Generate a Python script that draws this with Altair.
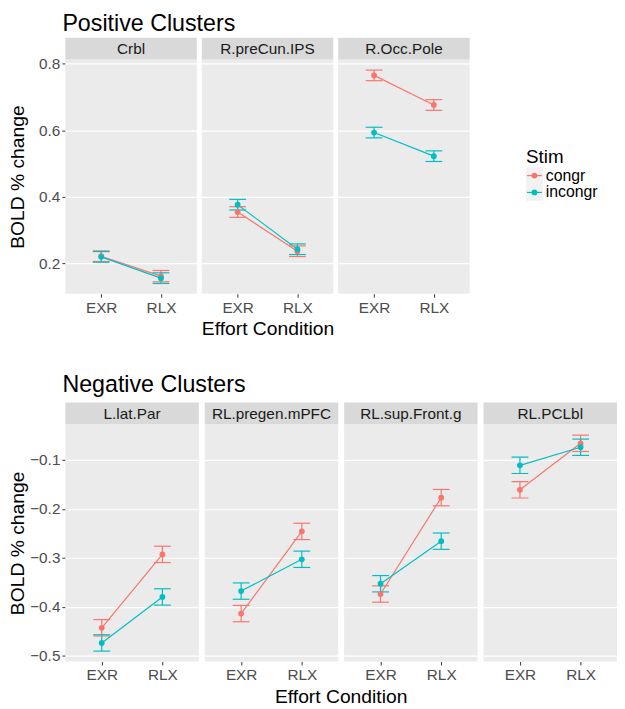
import altair as alt
import pandas as pd

# ---------------- data ----------------
efforts = ["EXR", "RLX"]
stims = ["congr", "incongr"]

pos_regions = ["Crbl", "R.preCun.IPS", "R.Occ.Pole"]
neg_regions = ["L.lat.Par", "RL.pregen.mPFC", "RL.sup.Front.g", "RL.PCLbl"]

# mean BOLD % change, [EXR, RLX] per region
pos_congr = [[0.221, 0.161], [0.354, 0.236], [0.765, 0.676]]
pos_incongr = [[0.219, 0.155], [0.376, 0.242], [0.593, 0.522]]
pos_se_congr = [[0.016, 0.017], [0.016, 0.016], [0.016, 0.016]]
pos_se_incongr = [[0.016, 0.016], [0.016, 0.016], [0.016, 0.016]]

neg_congr = [[-0.443, -0.293], [-0.414, -0.246], [-0.374, -0.177], [-0.161, -0.066]]
neg_incongr = [[-0.474, -0.380], [-0.368, -0.303], [-0.353, -0.266], [-0.111, -0.074]]
neg_se_congr = [[0.0167, 0.0167], [0.0167, 0.0167], [0.0167, 0.0167], [0.0167, 0.0167]]
neg_se_incongr = [[0.0167, 0.0167], [0.0167, 0.0167], [0.0167, 0.0167], [0.0167, 0.0167]]

pos_ticks = [0.2, 0.3, 0.4, 0.5, 0.6, 0.7, 0.8]
neg_ticks = [-0.5, -0.45, -0.4, -0.35, -0.3, -0.25, -0.2, -0.15, -0.1, -0.05]
pos_domain = [0.108, 0.813]
neg_domain = [-0.512, -0.027]

colors = ["#F8766D", "#00BFC4"]


def build(regions, congr, incongr, se_c, se_i):
    rows = []
    for r, reg in enumerate(regions):
        for s, (means, ses) in zip(stims, [(congr, se_c), (incongr, se_i)]):
            for e, eff in enumerate(efforts):
                rows.append({"Region": reg, "Stim": s, "Effort": eff,
                             "mean": means[r][e], "se": ses[r][e]})
    return pd.DataFrame(rows)


pos_df = build(pos_regions, pos_congr, pos_incongr, pos_se_congr, pos_se_incongr)
neg_df = build(neg_regions, neg_congr, neg_incongr, neg_se_congr, neg_se_incongr)

FONT = "Liberation Sans"
LAB = 15.5
TIT = 19.5


def panels(df, regions, width, height, domain, ticks, minor_test, spacing):
    yscale = alt.Scale(domain=domain, nice=False, zero=False)
    yaxis = alt.Axis(
        values=ticks, title="BOLD % change", titleFontSize=TIT, titleFontWeight="normal",
        titleColor="black", titlePadding=2, minExtent=36, maxExtent=36,
        labelFontSize=LAB, labelColor="#4D4D4D",
        tickColor="#333333", tickSize=3.5, labelPadding=2, domain=False, format=".1f",
        labelExpr=f"({minor_test}) ? '' : datum.label",
        gridColor="white",
        gridWidth={"condition": {"test": minor_test, "value": 0.55}, "value": 1.1},
        tickOpacity={"condition": {"test": minor_test, "value": 0}, "value": 1},
    )
    xenc = alt.X("Effort:N", sort=efforts,
                 scale=alt.Scale(type="point", padding=0.6, domain=efforts),
                 axis=alt.Axis(title=None,
                               labelFontSize=LAB, labelColor="#4D4D4D", labelAngle=0,
                               tickColor="#333333", tickSize=3.5, labelPadding=3,
                               domain=False, gridColor="white", gridWidth=1.1))
    cenc = alt.Color("Stim:N", scale=alt.Scale(domain=stims, range=colors), legend=None)
    base = alt.Chart().transform_calculate(
        lo="datum.mean - datum.se", hi="datum.mean + datum.se")
    line = base.mark_line(strokeWidth=1.2).encode(
        x=xenc, y=alt.Y("mean:Q", scale=yscale, axis=yaxis), color=cenc)
    pts = base.mark_circle(size=34, opacity=1).encode(
        x=xenc, y=alt.Y("mean:Q", scale=yscale), color=cenc)
    bar = base.mark_rule(strokeWidth=1.2).encode(
        x=xenc, y=alt.Y("lo:Q", scale=yscale), y2="hi:Q", color=cenc)
    cap_lo = base.mark_tick(orient="horizontal", size=17, thickness=1.2, opacity=1).encode(
        x=xenc, y=alt.Y("lo:Q", scale=yscale), color=cenc)
    cap_hi = base.mark_tick(orient="horizontal", size=17, thickness=1.2, opacity=1).encode(
        x=xenc, y=alt.Y("hi:Q", scale=yscale), color=cenc)
    one = alt.Chart().transform_filter("datum.Stim == 'congr' && datum.Effort == 'EXR'")
    strip = one.mark_rect(color="#D9D9D9").encode(
        x=alt.value(0), x2=alt.value(width), y=alt.value(-22), y2=alt.value(0))
    strip_txt = one.mark_text(fontSize=LAB, color="#1A1A1A", baseline="middle",
                              align="center").encode(
        x=alt.value(width / 2), y=alt.value(-10.5), text="Region:N")
    layer = alt.layer(line, bar, cap_lo, cap_hi, pts, strip, strip_txt).properties(
        width=width, height=height)
    return layer.facet(
        data=df,
        column=alt.Column("Region:N", sort=regions, title="Effort Condition",
                          header=alt.Header(labels=False, titleOrient="bottom",
                                            titleFontSize=TIT, titleFontWeight="normal",
                                            titleColor="black", titlePadding=-5)),
        spacing=spacing,
    )


top = panels(pos_df, pos_regions, 133, 237, pos_domain, pos_ticks,
             "round(datum.value * 10) % 2 != 0", 5)
bottom = panels(neg_df, neg_regions, 135, 240, neg_domain, neg_ticks,
                "round(datum.value * 20) % 2 != 0", 6).properties(
    title=alt.TitleParams("Negative Clusters", anchor="start", fontSize=23.5,
                          fontWeight="normal", offset=6, dx=55, color="black"))

# legend drawn from the stim list
leg_df = pd.DataFrame({"Stim": stims})
ly = alt.Y("Stim:N", scale=alt.Scale(type="band", domain=stims, range=[109, 143],
                                     paddingInner=0, paddingOuter=0), axis=None)
lc = alt.Color("Stim:N", scale=alt.Scale(domain=stims, range=colors), legend=None)
lkey = alt.Chart(leg_df).mark_rect(color="#F2F2F2").encode(
    y=ly, x=alt.value(0), x2=alt.value(17))
lline = alt.Chart(leg_df).mark_rule(strokeWidth=1.2).encode(
    y=ly, x=alt.value(1), x2=alt.value(16), color=lc)
lpt = alt.Chart(leg_df).mark_circle(size=34, opacity=1).encode(
    y=ly, x=alt.value(8.5), color=lc)
ltxt = alt.Chart(leg_df).mark_text(align="left", baseline="middle", fontSize=16).encode(
    y=ly, x=alt.value(20), text="Stim:N")
ltitle = alt.Chart(leg_df).transform_filter("datum.Stim == 'congr'").mark_text(
    align="left", baseline="alphabetic", fontSize=19, text="Stim").encode(
    x=alt.value(0), y=alt.value(105))
legend = alt.layer(lkey, lline, lpt, ltxt, ltitle).properties(
    width=90, height=237, view=alt.ViewBackground(fill="white", strokeWidth=0))

top_row = alt.hconcat(top, legend, spacing=57).properties(
    title=alt.TitleParams("Positive Clusters", anchor="start", fontSize=23.5,
                          fontWeight="normal", offset=2, dx=55, color="black"))

chart = alt.vconcat(top_row, bottom, spacing=34).resolve_scale(
    color="independent").properties(
    padding={"left": 0, "top": 0, "right": 0, "bottom": 0}
).configure(font=FONT).configure_view(fill="#EBEBEB", strokeWidth=0)

chart.save("out.html", embed_options={"renderer": "svg", "actions": False})
